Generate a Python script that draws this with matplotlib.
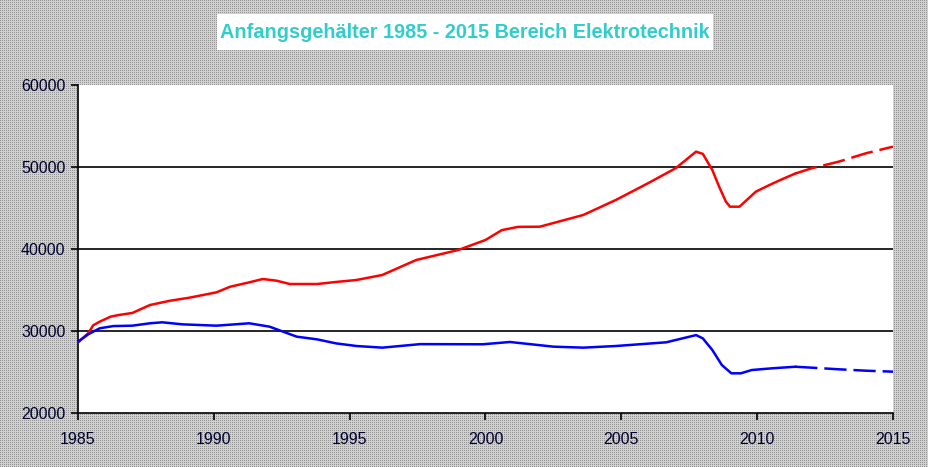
import numpy as np
import matplotlib
matplotlib.use("Agg")
import matplotlib.pyplot as plt
from matplotlib.patches import Rectangle

# ---- data ----
title = "Anfangsgehälter 1985 - 2015 Bereich Elektrotechnik"
x_ticks = [1985, 1990, 1995, 2000, 2005, 2010, 2015]
y_ticks = [20000, 30000, 40000, 50000, 60000]
dash_start = 2011.4

red_years = [1985.0, 1985.38, 1985.56, 1985.8, 1986.2, 1986.5, 1987.0, 1987.65, 1988.4, 1989.1, 1990.1, 1990.6,
             1991.3, 1991.8, 1992.3, 1992.8, 1993.8, 1994.5, 1995.25, 1996.2, 1997.45, 1999.0,
             2000.0, 2000.6, 2001.2, 2002.0, 2003.6, 2004.8, 2006.0, 2007.0, 2007.75, 2008.0,
             2008.35, 2008.6, 2008.85, 2009.0, 2009.35, 2009.95, 2010.45, 2010.85, 2011.4,
             2012.0, 2013.0, 2014.0, 2015.0]
red_values = [28600, 29750, 30700, 31140, 31750, 31950, 32200, 33170, 33700, 34060, 34720, 35400,
              35930, 36340, 36140, 35730, 35730, 35980, 36220, 36830, 38660, 39880,
              41100, 42300, 42700, 42720, 44150, 45980, 48050, 49850, 51870, 51600,
              49630, 47600, 45770, 45160, 45160, 46990, 47800, 48410, 49200,
              49840, 50650, 51670, 52480]

blue_years = [1985.0, 1985.38, 1985.56, 1985.8, 1986.3, 1987.0, 1987.65, 1988.1, 1988.85, 1990.1, 1991.1, 1991.3,
              1992.05, 1992.55, 1993.05, 1993.8, 1994.5, 1995.25, 1996.2, 1997.6, 1999.9, 2000.9,
              2002.5, 2003.6, 2004.8, 2006.65, 2007.25, 2007.75, 2008.0, 2008.35, 2008.7, 2009.05,
              2009.4, 2009.8, 2010.55, 2011.4, 2012.0, 2013.0, 2014.0, 2015.0]
blue_values = [28700, 29600, 29920, 30330, 30600, 30650, 30940, 31060, 30810, 30650, 30890, 30940,
               30530, 29920, 29310, 28980, 28490, 28170, 27970, 28400, 28380, 28660,
               28090, 27970, 28170, 28620, 29100, 29500, 29100, 27680, 25850, 24840,
               24840, 25240, 25450, 25640, 25530, 25330, 25160, 25040]

plt.rcParams["lines.scale_dashes"] = False

# ---- figure ----
W, H = 929, 467
fig = plt.figure(figsize=(W / 100, H / 100), dpi=100)

# dotted gray background pattern
bg = np.full((H, W, 3), 0.82)
bg[::2, ::2, :] = 0.58
fig.figimage(bg, xo=0, yo=0, origin="upper", zorder=-10)

ax = fig.add_axes([78 / W, (H - 413) / H, 815 / W, 328 / H])
ax.set_zorder(5)
ax.set_facecolor("white")

def split(xs, ys, cut):
    xs = np.asarray(xs); ys = np.asarray(ys)
    solid = xs <= cut
    dashed = xs >= cut
    return xs[solid], ys[solid], xs[dashed], ys[dashed]

for xs, ys, col in [(red_years, red_values, "#ff0000"), (blue_years, blue_values, "#0000ff")]:
    xs_s, ys_s, xs_d, ys_d = split(xs, ys, dash_start)
    ax.plot(xs_s, ys_s, color=col, lw=1.8, solid_joinstyle="round", zorder=3)
    ax.plot(xs_d, ys_d, color=col, lw=1.8, dashes=(16, 5), zorder=3)

ax.set_xlim(1985, 2015)
ax.set_ylim(20000, 60000)
ax.set_xticks(x_ticks)
ax.set_yticks(y_ticks)
ax.set_xticklabels([str(v) for v in x_ticks])
ax.set_yticklabels([str(v) for v in y_ticks])

for v in [30000, 40000, 50000]:
    ax.axhline(v, color="black", lw=1.2, zorder=2)

for s in ["top", "right"]:
    ax.spines[s].set_visible(False)
for s in ["left", "bottom"]:
    ax.spines[s].set_color("black")
    ax.spines[s].set_linewidth(1.2)

ax.tick_params(axis="both", direction="out", length=5, width=1.2, colors="black",
               labelsize=11.5, labelcolor="#000033")
ax.tick_params(axis="x", pad=9)
ax.tick_params(axis="y", pad=4)
for lab in ax.get_xticklabels() + ax.get_yticklabels():
    lab.set_fontfamily("Liberation Sans")

# title box
fig.patches.append(Rectangle((217 / W, 1 - 50 / H), 496 / W, 36 / H, transform=fig.transFigure,
                             facecolor="white", edgecolor="none", zorder=2))
fig.text(465 / W, 1 - 33 / H, title, ha="center", va="center", fontsize=14.3,
         fontweight="bold", color="#33cccc", family="Liberation Sans", zorder=3)

fig.savefig("out.png", dpi=100)
